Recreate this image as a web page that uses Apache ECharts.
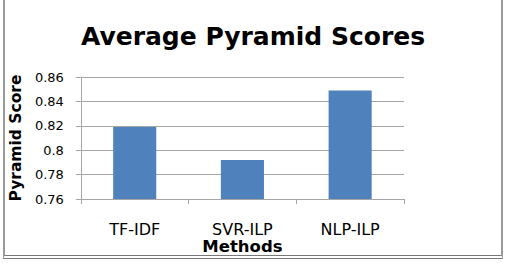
<!DOCTYPE html>
<html>
<head>
<meta charset="utf-8">
<script src="https://cdn.jsdelivr.net/npm/echarts@6/dist/echarts.min.js"></script>
<style>
  html, body { margin: 0; padding: 0; background: #fff; }
  #frame {
    position: absolute; left: 3px; top: 0; width: 496px; height: 255px;
    border: 2px solid #9a9a9a; border-top: none; border-bottom: 4px double #777;
  }
  #chart { position: absolute; left: 0; top: 0; width: 506px; height: 266px; }
</style>
</head>
<body>
<div id="frame"></div>
<div id="chart"></div>
<script>
var methods = ['TF-IDF', 'SVR-ILP', 'NLP-ILP'];
var scores = [0.819, 0.792, 0.849];
var yMin = 0.76;
var yMax = 0.86;
var yStep = 0.02;

(function() {
  var el = document.getElementById('chart');
  var chart = echarts.init(el, null, { renderer: 'svg' });
  var font = 'DejaVu Sans';
  var rule = '#a6a6a6';

  chart.setOption({
    animation: false,
    title: {
      text: 'Average Pyramid Scores',
      left: 'center',
      top: 19,
      textStyle: {
        fontFamily: font,
        fontWeight: 'bold',
        fontSize: 25,
        color: '#000'
      }
    },
    grid: {
      left: 79,
      right: 102,
      top: 77,
      bottom: 67
    },
    xAxis: {
      type: 'category',
      data: methods,
      name: 'Methods',
      nameLocation: 'middle',
      nameGap: 39,
      nameTextStyle: {
        fontFamily: font,
        fontWeight: 'bold',
        fontSize: 16.5,
        lineHeight: 16,
        color: '#000'
      },
      axisLine: { lineStyle: { color: rule } },
      axisTick: { show: true, length: 5, lineStyle: { color: rule } },
      axisLabel: {
        fontFamily: font,
        fontSize: 16,
        lineHeight: 16,
        color: '#000',
        margin: 22
      }
    },
    yAxis: {
      type: 'value',
      min: yMin,
      max: yMax,
      interval: yStep,
      name: 'Pyramid Score',
      nameLocation: 'middle',
      nameGap: 45,
      nameTextStyle: {
        fontFamily: font,
        fontWeight: 'bold',
        fontSize: 15.5,
        color: '#000'
      },
      axisLine: { show: true, lineStyle: { color: rule } },
      axisTick: { show: true, length: 5, lineStyle: { color: rule } },
      splitLine: { lineStyle: { color: rule, width: 1 } },
      axisLabel: {
        fontFamily: font,
        fontSize: 13,
        color: '#000',
        margin: 17,
        formatter: function(v) { return String(parseFloat(v.toFixed(2))); }
      }
    },
    series: [{
      type: 'bar',
      data: scores,
      barWidth: '40%',
      itemStyle: { color: '#4f81bd' }
    }]
  });
})();
</script>
</body>
</html>
